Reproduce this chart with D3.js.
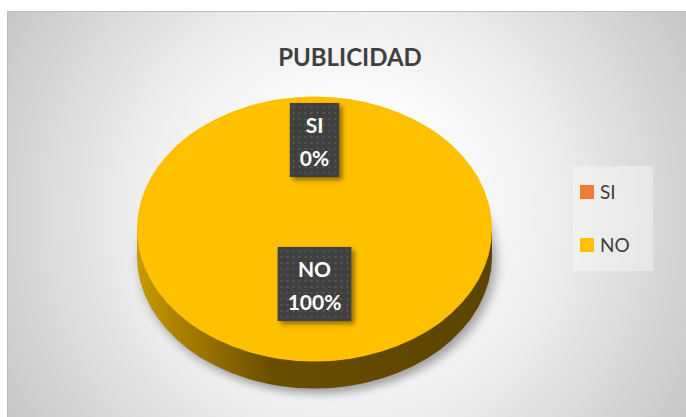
<!DOCTYPE html>
<html>
<head>
<meta charset="utf-8">
<script src="https://cdn.jsdelivr.net/npm/d3@7"></script>
<style>
  body { margin: 0; background: #fff; }
  svg { display: block; }
</style>
</head>
<body>
<div id="pie-chart"></div>
<script>
// data
const categories = ["SI", "NO"];
const values = [0, 100];
const sliceColors = ["#ED7D31", "#FFC000"];
const chartTitle = "PUBLICIDAD";

const width = 686, height = 417;
const font = "Lato, 'Open Sans', sans-serif";

// pie geometry (3D look: flattened ellipse + extruded side)
const cx = 314.5, cy = 229;
const radius = 177.5;
const tilt = 0.746;
const depth = 27;
const labelRadius = [0.672, 0.415];

const svg = d3.select("#pie-chart")
  .append("svg")
    .attr("width", width)
    .attr("height", height)
    .attr("viewBox", `0 0 ${width} ${height}`);

const defs = svg.append("defs");

// background gradient
const bg = defs.append("radialGradient")
    .attr("id", "bg")
    .attr("gradientUnits", "userSpaceOnUse")
    .attr("cx", 346).attr("cy", 214).attr("r", 400);
bg.append("stop").attr("offset", 0).attr("stop-color", "#ffffff");
bg.append("stop").attr("offset", 0.25).attr("stop-color", "#fdfdfd");
bg.append("stop").attr("offset", 0.52).attr("stop-color", "#eeeeee");
bg.append("stop").attr("offset", 0.85).attr("stop-color", "#d2d2d2");
bg.append("stop").attr("offset", 1).attr("stop-color", "#c6c6c6");

// side gradient (bounding box: left edge of pie -> right edge)
const sideGrad = defs.append("linearGradient")
    .attr("id", "side")
    .attr("x1", 0).attr("x2", 1)
    .attr("y1", 0).attr("y2", 0);
sideGrad.append("stop").attr("offset", 0).attr("stop-color", "#c99a00");
sideGrad.append("stop").attr("offset", 0.18).attr("stop-color", "#9c7400");
sideGrad.append("stop").attr("offset", 0.38).attr("stop-color", "#6a4e00");
sideGrad.append("stop").attr("offset", 1).attr("stop-color", "#5c4400");

defs.append("filter")
    .attr("id", "blur")
    .attr("x", "-20%").attr("y", "-20%").attr("width", "140%").attr("height", "140%")
  .append("feGaussianBlur").attr("stdDeviation", 6);

const shadow = defs.append("filter")
    .attr("id", "boxshadow")
    .attr("x", "-30%").attr("y", "-30%").attr("width", "160%").attr("height", "160%");
shadow.append("feDropShadow")
    .attr("dx", 3).attr("dy", 3).attr("stdDeviation", 2.5)
    .attr("flood-color", "#000").attr("flood-opacity", 0.45);

// dotted label pattern
const pat = defs.append("pattern")
    .attr("id", "dots")
    .attr("patternUnits", "userSpaceOnUse")
    .attr("width", 6).attr("height", 6);
pat.append("rect").attr("width", 6).attr("height", 6).attr("fill", "#404040");
pat.append("rect").attr("x", 2).attr("y", 2).attr("width", 2).attr("height", 2).attr("fill", "#565656");

// chart area
svg.append("rect")
    .attr("x", 7.5).attr("y", 11.5)
    .attr("width", width - 7).attr("height", height - 11)
    .attr("fill", "url(#bg)")
    .attr("stroke", "#bdbdbd");

svg.append("text")
    .text(chartTitle)
    .attr("x", 350)
    .attr("y", 66)
    .attr("text-anchor", "middle")
    .attr("fill", "#404040")
    .style("font-family", font)
    .style("font-size", "24px")
    .style("font-weight", 700);

const pieGenerator = d3.pie().value(d => d).sort(null);
const annotatedData = pieGenerator(values);

const arcGenerator = d3.arc()
    .innerRadius(0)
    .outerRadius(radius);

// shadow under pie
svg.append("g")
    .attr("transform", `translate(${cx + 4}, ${cy + depth + 5}) scale(1, ${tilt})`)
  .append("path")
    .attr("d", arcGenerator({startAngle: 0, endAngle: 2 * Math.PI}))
    .attr("fill", "#000")
    .attr("opacity", 0.35)
    .attr("filter", "url(#blur)");

// side of pie
const sideG = svg.append("g");
sideG.selectAll(".side-bottom")
  .data(annotatedData.filter(d => d.endAngle > d.startAngle))
  .join("path")
    .attr("class", "side-bottom")
    .attr("transform", `translate(${cx}, ${cy + depth}) scale(1, ${tilt})`)
    .attr("d", arcGenerator)
    .attr("fill", "url(#side)");
sideG.append("rect")
    .attr("x", cx - radius)
    .attr("y", cy)
    .attr("width", radius * 2)
    .attr("height", depth)
    .attr("fill", "url(#side)");

// top face
const topFace = svg.append("g")
    .attr("transform", `translate(${cx}, ${cy}) scale(1, ${tilt})`);
topFace.selectAll(".arc")
  .data(annotatedData)
  .join("path")
    .attr("class", "arc")
    .attr("d", arcGenerator)
    .attr("fill", (d, i) => sliceColors[i]);

// data labels
const labels = svg.selectAll(".label")
  .data(annotatedData)
  .join("g")
    .attr("class", "label")
    .attr("transform", (d, i) => {
      const c = d3.arc()
        .innerRadius(radius * labelRadius[i])
        .outerRadius(radius * labelRadius[i])
        .centroid(d);
      return `translate(${cx + c[0]}, ${cy + c[1] * tilt})`;
    });

const boxRects = labels.append("rect")
    .attr("fill", "url(#dots)")
    .attr("filter", "url(#boxshadow)");

labels.append("text")
    .attr("text-anchor", "middle")
    .attr("fill", "#ffffff")
    .style("font-family", font)
    .style("font-size", "21px")
    .style("font-weight", 700)
  .selectAll("tspan")
  .data((d, i) => [categories[i], d3.format(".0%")(d.value / d3.sum(values))])
  .join("tspan")
    .attr("x", 0)
    .attr("y", (d, j) => j === 0 ? -7 : 26)
    .text(d => d);

boxRects.each(function() {
  const bb = this.parentNode.querySelector("text").getBBox();
  const w = bb.width + 20;
  d3.select(this)
    .attr("x", -w / 2)
    .attr("y", -37)
    .attr("width", w)
    .attr("height", 74);
});

// legend
svg.append("rect")
    .attr("x", 573).attr("y", 166)
    .attr("width", 80).attr("height", 105)
    .attr("fill", "#ffffff")
    .attr("opacity", 0.35);

const legend = svg.selectAll(".legend")
  .data(categories)
  .join("g")
    .attr("class", "legend")
    .attr("transform", (d, i) => `translate(580, ${185 + i * 53})`);
legend.append("rect")
    .attr("width", 14).attr("height", 14)
    .attr("fill", (d, i) => sliceColors[i]);
legend.append("text")
    .text(d => d)
    .attr("x", 20)
    .attr("y", 14)
    .attr("fill", "#404040")
    .style("font-family", font)
    .style("font-size", "19px");
</script>
</body>
</html>
